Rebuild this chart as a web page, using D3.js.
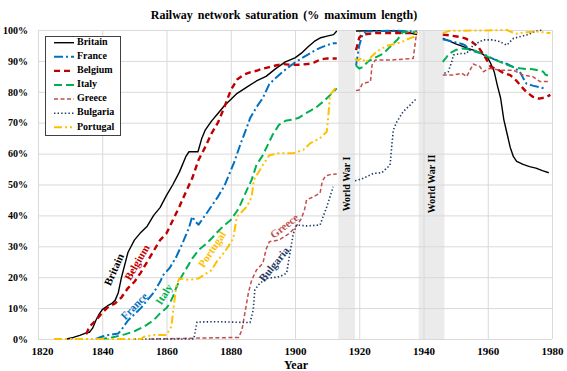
<!DOCTYPE html>
<html>
<head>
<meta charset="utf-8">
<script src="https://cdn.jsdelivr.net/npm/d3@7"></script>
<style>
  html, body { margin: 0; padding: 0; background: #fff; }
  svg { display: block; }
  text { font-family: "Liberation Serif", "Times New Roman", serif; font-weight: bold; }
</style>
</head>
<body>
<svg id="chart" width="567" height="371"></svg>
<script>
// ---------- DATA ----------
const titleText = "Railway network saturation (% maximum length)";
const xTicks = [1820, 1840, 1860, 1880, 1900, 1920, 1940, 1960, 1980];
const yTicks = [0, 10, 20, 30, 40, 50, 60, 70, 80, 90, 100];
const wars = [
  { name: "World War I", start: 1913.5, end: 1918.7 },
  { name: "World War II", start: 1938.5, end: 1946.5 }
];

const britain = [[1829,0],[1831,0.5],[1833,1.2],[1835,2],[1836,2.2],[1837,3.5],[1838,6],[1839,8],[1840,9.5],[1842,11],[1843,11.5],[1844,12.5],[1845,15],[1846,20],[1847,24],[1848,28],[1849,30],[1850,32],[1852,34.5],[1854,36.5],[1856,40],[1858,42.5],[1860,46.5],[1862,50],[1864,54],[1866,59],[1867,60.6],[1869.8,60.6],[1871,65],[1872,67.5],[1874,70.5],[1876,73],[1878,75.5],[1880,77.5],[1882,79.5],[1885,81.5],[1888,83.5],[1891,85],[1894,87.5],[1897,89.7],[1900,91],[1902,92.5],[1904,94.5],[1906,96.3],[1908,97.5],[1910,98],[1912,98.5],[1913,99.7],
  [1916,null],
  [1919,99.7],[1925,99.8],[1932,99.7],[1935,99.2],[1938,98.5],
  [1942,null],
  [1946,97.3],[1948,96.5],[1950,95.5],[1952,94.8],[1954,94],[1956,93.3],[1958,92.5],[1960,91],[1961,89],[1962,86.5],[1963,82],[1964,78],[1965,71],[1966,66.5],[1967,62],[1968,59],[1969,57.5],[1971,56.5],[1973,55.8],[1975,55.3],[1977,54.5],[1979,53.8]];

const france = [[1838,0],[1840,0.8],[1842,1.3],[1845,1.8],[1846,3],[1848,6],[1850,8],[1852,10],[1854,12.5],[1856,15],[1858,18.5],[1859,20.7],[1861,23],[1863,26.5],[1865,31],[1867,36],[1868,39.6],[1869,38],[1870,37],[1871,38.5],[1872.5,40.7],[1874,43],[1876,46],[1878,49.5],[1879,52],[1881,57],[1883,63],[1885,68.5],[1886,71.4],[1888,75],[1890,78],[1892,82.5],[1894,84.5],[1896,86.3],[1898,88],[1900,89.5],[1902,90.8],[1904,92],[1906,93.3],[1908,94.3],[1910,95.1],[1912,95.7],[1913,95.7],
  [1916,null],
  [1919,88.5],[1920,95],[1921,98.4],[1922,99.5],[1930,99.8],[1938,99.5],
  [1942,null],
  [1946,97],[1948,96.5],[1950,96],[1952,95.5],[1953,95],[1954.5,93.5],[1956,93],[1958,92.5],[1960,91.5],[1962,90.5],[1964,89.8],[1966,89],[1968,88],[1970,86.5],[1971,84.5],[1972,82.7],[1974,82],[1976,81.5],[1978,81]];

const belgium = [[1835,1.5],[1836,4],[1838,6],[1840,8.5],[1842,10.5],[1844,11.5],[1846,13.5],[1848,16.5],[1850,18.5],[1852,21.5],[1854,25],[1856,28.5],[1858,32],[1860,34.2],[1862,38.5],[1864,42.8],[1866,47.5],[1868,52],[1870,58],[1872,62],[1874,66.5],[1876,70],[1878,75],[1880,80.5],[1882,84],[1884,85.5],[1886,86.3],[1888,86.8],[1890,87.5],[1892,88],[1894,88.5],[1896,89],[1898,88.8],[1900,88.7],[1902,88.8],[1904,89],[1906,89.5],[1908,90.5],[1910,90.8],[1913,90.8],
  [1916,null],
  [1919,93.5],[1920,97.5],[1921,98.5],[1925,99],[1938,99],
  [1942,null],
  [1946,98.5],[1948,98.3],[1951,97.8],[1953,97.3],[1955,96.2],[1957,94.6],[1959,91.5],[1961,88],[1963,87.3],[1965,86],[1967,85.4],[1969,83.5],[1971,81.1],[1972,80],[1974,78.4],[1976,77.8],[1978,78.2],[1979.5,79]];

const italy = [[1839,0],[1842,0.3],[1844,0.7],[1847,1.5],[1850,2.5],[1853,4],[1856,6.1],[1858,8.3],[1860,10],[1861,11.5],[1862,13.7],[1863,16.5],[1864,19],[1866,22.5],[1868,26],[1870,28.8],[1872,30.5],[1874,32.5],[1876,34.8],[1878,36.8],[1880,38.5],[1882,41.5],[1883,43.5],[1885,48.2],[1886.5,51.5],[1888,56.3],[1890,59.5],[1891,61.7],[1893,66],[1895,69.3],[1897,70.6],[1899,71],[1901,71.5],[1903,72.8],[1905,74],[1907,75.3],[1909,77],[1911,79],[1913,81.1],
  [1916,null],
  [1919,88.5],[1920,87.5],[1921,88],[1923,90],[1924.5,90.8],[1927.5,92.4],[1930,95],[1932,97],[1933.5,99.3],[1936,99.5],[1938,99],
  [1942,null],
  [1946,89.7],[1947,91],[1948,92.4],[1950,93.5],[1952,94],[1954,93.8],[1956,93.3],[1958,92.3],[1960,91.3],[1962,90.5],[1964,89.6],[1966,88.7],[1968,88],[1970,87.6],[1972,87.4],[1974,87.3],[1976,86.9],[1977.3,86.5],[1978,85.5],[1979,85.2]];

const greece = [[1855,0],[1870,0.3],[1882.5,0.5],[1883.5,3],[1884.5,9],[1885.5,15],[1886.5,19],[1888,22.3],[1890,24.5],[1891,29],[1892,31.5],[1895,32],[1898,34],[1900,36],[1902,39],[1903,42],[1903.6,45],[1905.7,46],[1907.8,47.2],[1908.5,51],[1909.5,52.8],[1911,53.2],[1913,53.4],
  [1916,null],
  [1919,80.4],[1920,80.6],[1921,82.7],[1923.5,83.3],[1924,88.7],[1925,90.3],[1930,90.3],[1936.8,90.8],[1937.9,99.5],
  [1942,null],
  [1946,85.4],[1949,85.4],[1952,86],[1953.4,84.9],[1955.5,89],[1957.6,88.1],[1958.6,86.5],[1960.7,87.6],[1963.8,87],[1968,87],[1971,85.4],[1974,84.9],[1976.3,83.3],[1979.4,83.3]];

const bulgaria = [[1850,0],[1868.5,0],[1869.5,5.5],[1876,5.6],[1886,5.3],[1887,9.4],[1887.5,15.9],[1889,18],[1891.2,19.6],[1895.3,20.2],[1897.4,21.3],[1898.4,27.7],[1899.5,34.2],[1900.5,36.9],[1903.6,36.6],[1907.8,36.9],[1909.9,42.8],[1911.9,49.3],
  [1915,null],
  [1918.7,51.2],[1921.3,52],[1924.4,53.6],[1927,53.8],[1929.6,56.3],[1930.1,62.2],[1930.6,67.6],[1931.7,70.3],[1933.7,73.6],[1935.8,75.7],[1937.9,77.9],
  [1942,null],
  [1946.5,86],[1947.7,86.5],[1948.8,89.7],[1949.3,91.9],[1951.4,92.4],[1953.4,92.4],[1955.5,95.1],[1958.6,96.8],[1961.7,96.8],[1963.8,96.2],[1965.9,95.1],[1968,97.3],[1972.1,98.4],[1975.2,99.7],[1977.3,100]];

const portugal = [[1825,0],[1852,0],[1853,0.7],[1856,1.3],[1860,1.3],[1861.5,4],[1862,8.3],[1863,17],[1864,19.6],[1867,19.1],[1870,19.6],[1872.5,21.3],[1874,22.3],[1875.6,25],[1877.7,27.7],[1879.2,29.9],[1880.8,32.6],[1881.9,39.6],[1883,40.7],[1885,42.8],[1886.5,46],[1887.2,51.5],[1890,56.3],[1892,59.5],[1895,60.1],[1899.5,60.1],[1902.6,61.2],[1904.7,63.3],[1907.8,65],[1909.9,67.1],[1910.4,72.5],[1910.9,79],[1913,81.7],
  [1916,null],
  [1918.7,90.8],[1919.5,90],[1920.8,91],[1922,89.5],[1923.5,91],[1925.4,93],[1927,94],[1929,95],[1931,95.5],[1933,96],[1935,97],[1937,97.8],[1938,100],
  [1942,null],
  [1946,99],[1948,99.7],[1955,99.8],[1966,100],[1967,99.5],[1969,98.8],[1972,99.3],[1975,99.5],[1979.5,99]];

const seriesNames = ["Britain", "France", "Belgium", "Italy", "Greece", "Bulgaria", "Portugal"];
const seriesData = [britain, france, belgium, italy, greece, bulgaria, portugal];

// ---------- STYLES ----------
const styles = {
  Britain:  { color: "#000000", width: 1.4, dash: null },
  France:   { color: "#0070C0", width: 2,   dash: "9,3,2,3" },
  Belgium:  { color: "#C00000", width: 2.4, dash: "6,4" },
  Italy:    { color: "#00B050", width: 2,   dash: "8,4" },
  Greece:   { color: "#C0504D", width: 1.5, dash: "4,2.5" },
  Bulgaria: { color: "#1F3864", width: 1.6, dash: "1.4,2.2" },
  Portugal: { color: "#FFC000", width: 2,   dash: "8,3,2,3,2,3" }
};
const labelPos = {
  Britain:  { x: 115, y: 270, a: -66 },
  Belgium:  { x: 138, y: 263, a: -60 },
  France:   { x: 135, y: 307, a: -45 },
  Italy:    { x: 165, y: 295, a: -58 },
  Portugal: { x: 213, y: 250, a: -56 },
  Greece:   { x: 285, y: 227, a: -38 },
  Bulgaria: { x: 275, y: 265, a: -51 }
};

// ---------- CHART ----------
const svg = d3.select("#chart");
const L = 38, R = 552, T = 30, B = 339;
const x = d3.scaleLinear().domain([1820, 1980]).range([L, R]);
const y = d3.scaleLinear().domain([0, 100]).range([B, T]);

// war bands
svg.append("g").selectAll("rect").data(wars).join("rect")
  .attr("x", d => x(d.start)).attr("width", d => x(d.end) - x(d.start))
  .attr("y", T).attr("height", B - T)
  .attr("fill", "#ebebeb");

// grid + axes
const yAxis = d3.axisLeft(y).tickValues(yTicks).tickSize(-(R - L)).tickPadding(10)
  .tickFormat(d => d + "%");
const gy = svg.append("g").attr("transform", `translate(${L},0)`).call(yAxis);
gy.select(".domain").remove();
gy.selectAll("line").attr("stroke", "#d9d9d9").attr("stroke-width", 1);
gy.selectAll("text").attr("font-size", 10).attr("fill", "#000")
  .style("font-family", '"Liberation Serif", "Times New Roman", serif').style("font-weight", "bold");

const xAxis = d3.axisBottom(x).tickValues(xTicks).tickSize(-(B - T)).tickPadding(8)
  .tickFormat(d3.format("d"));
const gx = svg.append("g").attr("transform", `translate(0,${B})`).call(xAxis);
gx.select(".domain").remove();
gx.selectAll("line").attr("stroke", "#d9d9d9").attr("stroke-width", 1);
gx.selectAll("text").attr("font-size", 11).attr("fill", "#000")
  .attr("dx", d => d === 1820 ? 4 : 0)
  .style("font-family", '"Liberation Serif", "Times New Roman", serif').style("font-weight", "bold");

// war labels
svg.append("g").selectAll("text").data(wars).join("text")
  .attr("transform", d => `translate(${x((d.start + d.end) / 2) + 3},184) rotate(-90)`)
  .attr("text-anchor", "middle")
  .attr("font-size", 10).attr("fill", "#000")
  .text(d => d.name);

// lines
const line = d3.line().defined(d => d[1] != null).x(d => x(d[0])).y(d => y(d[1]));
svg.append("g").selectAll("path").data(seriesNames).join("path")
  .attr("d", (n, i) => line(seriesData[i]))
  .attr("fill", "none")
  .attr("stroke", n => styles[n].color)
  .attr("stroke-width", n => styles[n].width)
  .attr("stroke-dasharray", n => styles[n].dash)
  .attr("stroke-linejoin", "round");

// series labels
svg.append("g").selectAll("text").data(seriesNames).join("text")
  .attr("transform", n => `translate(${labelPos[n].x},${labelPos[n].y}) rotate(${labelPos[n].a})`)
  .attr("text-anchor", "middle").attr("dominant-baseline", "middle")
  .attr("font-size", 11)
  .attr("fill", n => styles[n].color)
  .text(n => n);

// legend
const lg = svg.append("g");
lg.append("rect").attr("x", 45.5).attr("y", 36.5).attr("width", 75).attr("height", 99)
  .attr("fill", "#fff").attr("stroke", "#404040").attr("stroke-width", 1);
const rows = lg.selectAll("g.row").data(seriesNames).join("g").attr("class", "row")
  .attr("transform", (n, i) => `translate(0,${42.7 + i * 14.1})`);
rows.append("line").attr("x1", 54).attr("x2", 74).attr("y1", 0).attr("y2", 0)
  .attr("stroke", n => styles[n].color)
  .attr("stroke-width", n => styles[n].width)
  .attr("stroke-dasharray", n => styles[n].dash);
rows.append("text").attr("x", 77).attr("y", 0).attr("dominant-baseline", "middle")
  .attr("font-size", 10).attr("fill", "#000").text(n => n);

// title and axis label
svg.append("text").attr("x", 284).attr("y", 19).attr("text-anchor", "middle")
  .attr("font-size", 12).attr("word-spacing", 2).text(titleText);
svg.append("text").attr("x", 296).attr("y", 369).attr("text-anchor", "middle")
  .attr("font-size", 12).text("Year");
</script>
</body>
</html>
